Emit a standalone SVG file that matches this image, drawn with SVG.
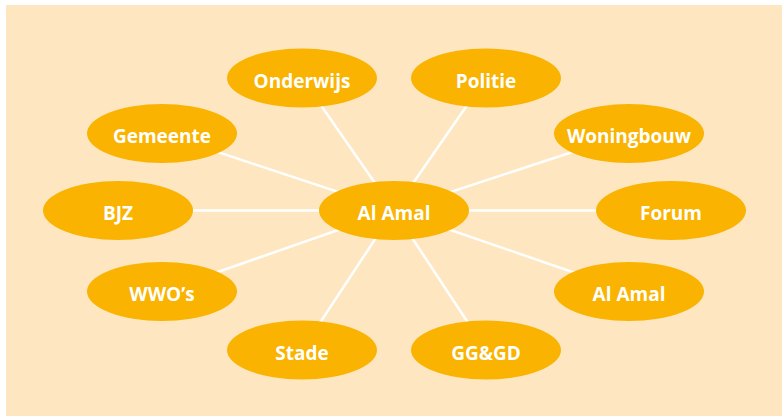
<svg xmlns="http://www.w3.org/2000/svg" width="782" height="416" viewBox="0 0 782 416">
<style>
.n ellipse{fill:#F9B300;}
.n text{fill:#FFFFFF;font-family:"Open Sans","Noto Sans","DejaVu Sans",sans-serif;font-weight:bold;font-size:19px;text-anchor:middle;}
#connectors line{stroke:#FFFFFF;stroke-width:2.5;}
</style>
<rect x="0" y="0" width="782" height="416" fill="#FFFFFF"/>
<rect x="6" y="5" width="776" height="411" fill="#FEE6C0"/>
<g id="connectors">
<line x1="394" y1="210.5" x2="302" y2="78"/>
<line x1="394" y1="210.5" x2="486" y2="78"/>
<line x1="394" y1="210.5" x2="162" y2="133.5"/>
<line x1="394" y1="210.5" x2="629" y2="133.5"/>
<line x1="394" y1="210.5" x2="118" y2="210.5"/>
<line x1="394" y1="210.5" x2="671" y2="210.5"/>
<line x1="394" y1="210.5" x2="162" y2="291.5"/>
<line x1="394" y1="210.5" x2="629" y2="291.5"/>
<line x1="394" y1="210.5" x2="302" y2="350"/>
<line x1="394" y1="210.5" x2="486" y2="350"/>
</g>
<g id="onderwijs" class="n"><ellipse cx="302" cy="78" rx="75" ry="29.5"/><text x="302" y="87.5">Onderwijs</text></g>
<g id="politie" class="n"><ellipse cx="486" cy="78" rx="75" ry="29.5"/><text x="486" y="87.5">Politie</text></g>
<g id="gemeente" class="n"><ellipse cx="162" cy="133.5" rx="75" ry="29.5"/><text x="162" y="143">Gemeente</text></g>
<g id="woningbouw" class="n"><ellipse cx="629" cy="133.5" rx="75" ry="29.5"/><text x="629" y="143">Woningbouw</text></g>
<g id="bjz" class="n"><ellipse cx="118" cy="210.5" rx="75" ry="29.5"/><text x="118" y="220">BJZ</text></g>
<g id="alamal-center" class="n"><ellipse cx="394" cy="210.5" rx="75" ry="29.5"/><text x="394" y="220">Al Amal</text></g>
<g id="forum" class="n"><ellipse cx="671" cy="210.5" rx="75" ry="29.5"/><text x="671" y="220">Forum</text></g>
<g id="wwos" class="n"><ellipse cx="162" cy="291.5" rx="75" ry="29.5"/><text x="162" y="301">WWO’s</text></g>
<g id="alamal-right" class="n"><ellipse cx="629" cy="291.5" rx="75" ry="29.5"/><text x="629" y="301">Al Amal</text></g>
<g id="stade" class="n"><ellipse cx="302" cy="350" rx="75" ry="29.5"/><text x="302" y="359.5">Stade</text></g>
<g id="gggd" class="n"><ellipse cx="486" cy="350" rx="75" ry="29.5"/><text x="486" y="359.5">GG&amp;GD</text></g>
</svg>
